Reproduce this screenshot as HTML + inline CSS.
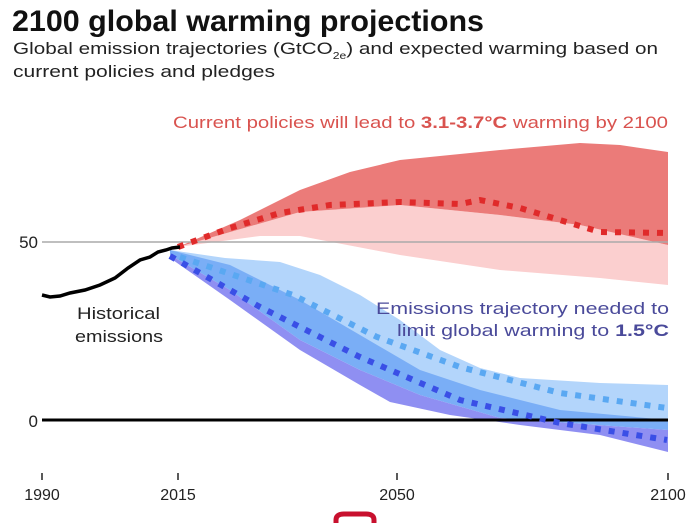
<!DOCTYPE html>
<html><head><meta charset="utf-8"><style>
html,body{margin:0;padding:0;background:#fff;width:693px;height:523px;overflow:hidden}
svg{display:block;font-family:"Liberation Sans",sans-serif}
</style></head><body>
<svg width="693" height="523" viewBox="0 0 693 523" xmlns="http://www.w3.org/2000/svg">
<text x="12" y="31" font-size="30" font-weight="bold" fill="#111" textLength="472" lengthAdjust="spacingAndGlyphs">2100 global warming projections</text>
<text x="13" y="54" font-size="17" fill="#222" textLength="645" lengthAdjust="spacingAndGlyphs">Global emission trajectories (GtCO<tspan font-size="10" dy="5">2e</tspan><tspan dy="-5">) and expected warming based on</tspan></text>
<text x="13" y="77" font-size="17" fill="#222" textLength="262" lengthAdjust="spacingAndGlyphs">current policies and pledges</text>
<text x="173" y="128" font-size="17" fill="#d9534f" textLength="495" lengthAdjust="spacingAndGlyphs">Current policies will lead to <tspan font-weight="bold">3.1-3.7°C</tspan>  warming by 2100</text>

<path d="M178,247 L300,212 L400,205 L500,215 L580,225 L668,245 L668,285 L600,278 L500,270 L400,255 L300,236 L260,236 Z" fill="#fbcfcf"/>
<path d="M178,247 L240,220 L300,190 L350,172 L400,160 L500,150 L580,143 L620,145 L668,152 L668,245 L580,225 L500,215 L400,205 L300,212 Z" fill="#eb7b79"/>
<line x1="42" y1="242" x2="668" y2="242" stroke="#aaa" stroke-width="1.5"/>

<path d="M170,250 L225,258 L280,262 L320,275 L360,295 L400,320 L440,350 L480,368 L520,378 L600,383 L668,385 L668,430 L600,420 L520,412 L460,395 L400,378 L360,365 L300,330 L230,285 L170,255 Z" fill="#b3d5fb"/>
<path d="M170,250 L230,265 L250,275 L300,300 L360,335 L420,370 L480,390 L560,410 L668,420 L668,430 L500,418 L420,395 L360,370 L300,340 L230,290 L170,255 Z" fill="#7aaef6"/>
<path d="M170,255 L230,290 L300,340 L360,370 L420,395 L500,418 L668,430 L668,452 L600,435 L520,425 L450,415 L390,402 L360,385 L300,350 L230,300 L170,258 Z" fill="#8f8ff2"/>

<line x1="42" y1="420" x2="668" y2="420" stroke="#000" stroke-width="3"/>

<polyline points="178,247 230,228 280,213 330,205 400,202 460,204 480,200 520,208 560,220 600,232 668,233" fill="none" stroke="#e02a2a" stroke-width="6" stroke-dasharray="6,8"/>
<polyline points="180,257 293,295 377,337 460,367 560,393 667,408" fill="none" stroke="#5aa8f2" stroke-width="6" stroke-dasharray="6,8"/>
<polyline points="170,256 260,307 360,357 460,400 560,423 667,440" fill="none" stroke="#3a4fe6" stroke-width="6" stroke-dasharray="6,8"/>

<polyline points="42,295 50,297 60,296 70,293 85,290 100,285 115,278 128,268 140,260 150,257 158,252 166,250 172,248 180,247" fill="none" stroke="#000" stroke-width="3.5"/>

<text x="77" y="319" font-size="17" fill="#222" textLength="83" lengthAdjust="spacingAndGlyphs">Historical</text>
<text x="75" y="342" font-size="17" fill="#222" textLength="88" lengthAdjust="spacingAndGlyphs">emissions</text>
<text x="376" y="314" font-size="17" fill="#4a4a9a" textLength="293" lengthAdjust="spacingAndGlyphs">Emissions trajectory needed to</text>
<text x="397" y="336" font-size="17" fill="#4a4a9a" textLength="272" lengthAdjust="spacingAndGlyphs">limit global warming to <tspan font-weight="bold">1.5°C</tspan></text>

<text x="38" y="248" font-size="17" fill="#222" text-anchor="end">50</text>
<text x="38" y="427" font-size="17" fill="#222" text-anchor="end">0</text>

<g stroke="#222" stroke-width="1.5">
<line x1="42" y1="473" x2="42" y2="480"/><line x1="178" y1="473" x2="178" y2="480"/>
<line x1="397" y1="473" x2="397" y2="480"/><line x1="668" y1="473" x2="668" y2="480"/>
</g>
<g font-size="16" fill="#222" text-anchor="middle">
<text x="42" y="500">1990</text><text x="178" y="500">2015</text><text x="397" y="500">2050</text><text x="668" y="500">2100</text>
</g>
<path d="M336,523 L336,520 Q336,514 344,514 L366,514 Q374,514 374,520 L374,523" fill="none" stroke="#c8102e" stroke-width="5"/>
</svg>
</body></html>
